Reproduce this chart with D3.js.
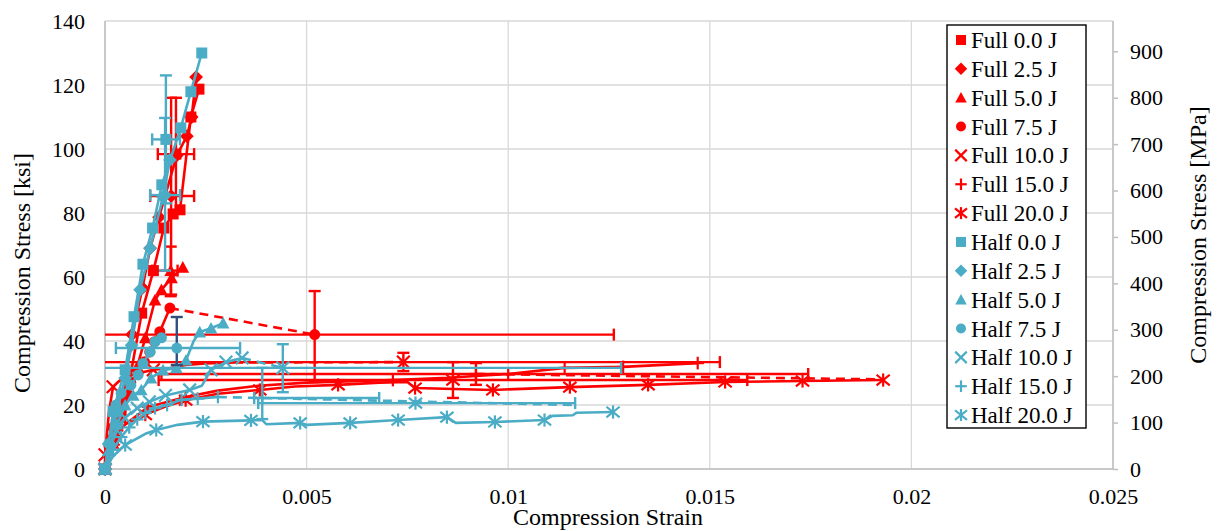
<!DOCTYPE html>
<html><head><meta charset="utf-8">
<script src="https://cdn.jsdelivr.net/npm/d3@7"></script>
<style>
body{margin:0;background:#fff}
svg{display:block}
svg text{font-family:'Liberation Serif','Times New Roman',Tinos,'DejaVu Serif',serif !important;fill:#000}
</style>
</head><body>
<svg id="c" width="1222" height="531" font-family="Liberation Serif"></svg>
<script>
// ---------- axis ticks ----------
const xTicks = [0, 0.005, 0.01, 0.015, 0.02, 0.025];
const yTicks = [0, 20, 40, 60, 80, 100, 120, 140];
const mpaTicks = [0, 100, 200, 300, 400, 500, 600, 700, 800, 900];
const legendLabels = ["Full 0.0 J","Full 2.5 J","Full 5.0 J","Full 7.5 J","Full 10.0 J","Full 15.0 J","Full 20.0 J",
  "Half 0.0 J","Half 2.5 J","Half 5.0 J","Half 7.5 J","Half 10.0 J","Half 15.0 J","Half 20.0 J"];

// ---------- data: [strain, stress ksi, (0 = no marker)] ----------
const full00Curve = [[0,0],[0.0002,9],[0.0004,18],[0.0006,27],[0.00091,48.7],[0.0012,62],[0.00146,75.3],[0.00169,79.7],[0.00186,81],[0.00213,110],[0.00233,118.7]];
const full25Curve = [[0,0],[0.0002,10],[0.0004,20],[0.00067,42],[0.00093,56.6],[0.00112,69],[0.00134,78.7],[0.00178,98],[0.00203,104],[0.00215,110],[0.00226,122.5]];
const full50Curve = [[0,0],[0.0002,8],[0.0004,16],[0.0006,24],[0.0008,32],[0.001,41],[0.00124,52.8],[0.0014,56],[0.00165,59.7],[0.00193,63]];
const full75Curve = [[0,0],[0.0001,7],[0.0002,13],[0.0003,17],[0.0004,21],[0.0005,24],[0.00064,27],[0.00082,30],[0.00098,33.5],[0.00111,36.6],[0.00123,39.8],[0.00136,42.9],[0.00161,50.3]];
const full100Curve = [[0,0],[0,4.4],[0.0001,18,0],[0.0002,25.7],[0.0004,28,0],[0.0007,29.5,0],[0.0012,31],[0.0016,31.5,0],[0.002,32.5,0],[0.0025,33,0],[0.0032,33.3,0]];
const full150Curve = [[0,0],[0.0003,12],[0.00107,19.4],[0.002,22.5],[0.0028,24.5,0],[0.0038,26,0],[0.005,27,0],[0.00714,27.8],[0.0085,28.5,0],[0.01,29.7],[0.0114,31.6],[0.01285,31.9],[0.0147,33.1]];
const full200Curve = [[0,0],[0.0002,9],[0.0005,14,0],[0.001,17],[0.0015,19.5,0],[0.002,21.5],[0.0028,23.5,0],[0.00384,24.7],[0.0047,25.8,0],[0.00578,26.3],[0.0068,27,0],[0.0075,27.2,0],[0.00769,25.3],[0.00962,24.7],[0.01153,25.6],[0.01347,26.3],[0.01538,27.2],[0.0173,27.5],[0.0193,27.8]];

const half00Curve = [[0,0],[0.0002,18],[0.0005,31],[0.00072,47.6],[0.00094,64],[0.00118,75.3],[0.00141,88.8],[0.00188,106.6],[0.00213,117.9],[0.0024,130]];
const half25Curve = [[0,0],[0.0001,8],[0.0003,18],[0.0005,28.4],[0.00066,38.7],[0.00087,56],[0.00112,69],[0.00144,85],[0.00161,96.6]];
const half50Curve = [[0,0],[0.0001,6],[0.0003,14],[0.0005,20],[0.0007,23],[0.0009,24.7],[0.00114,28.4],[0.00144,30.9],[0.00177,31.6],[0.00201,34],[0.0022,40,0],[0.00235,42.8],[0.00263,44],[0.00293,45.6]];
const half75Curve = [[0,0],[0.0001,8],[0.00027,20],[0.0004,23.7],[0.00064,26.2],[0.00082,29.4],[0.00094,33],[0.00112,36.6],[0.00124,39.8],[0.0014,41]];
const half100Curve = [[0,0],[0.0001,6],[0.0003,12],[0.0005,16],[0.0008,19],[0.0011,21],[0.0015,23],[0.0021,24.7],[0.0024,26,0],[0.00263,31],[0.003,33.4],[0.0034,34.7]];
const half150Curve = [[0,0],[0.0002,6],[0.0004,10],[0.0006,13],[0.0008,15.5],[0.001,17.5],[0.00124,19],[0.00154,20],[0.0019,21.6],[0.0023,22],[0.0028,22.5]];
const half200Curve = [[0,0],[0.0002,4,0],[0.0005,7.5],[0.001,11,0],[0.00127,12.2],[0.0018,13.8,0],[0.00243,14.8],[0.00362,15.2],[0.0039,15.3,0],[0.004,14,0],[0.00484,14.4],[0.005,13.8,0],[0.00608,14.4],[0.00727,15.3],[0.00848,16.2],[0.0087,14.4,0],[0.00967,14.7],[0.0109,15.3],[0.0111,16.6,0],[0.0116,16.8,0],[0.0117,17.6,0],[0.0126,17.8]];

// failure points: [strain, stress, strainLow, strainHigh, stressLow, stressHigh]
const full00Fail = [0.00176, 98.4, 0.00131, 0.00221, 80, 116];
const full25Fail = [0.00164, 85.3, 0.00112, 0.00221, 54.5, 116];
const full50Fail = [0.00163, 62, 0.00117, 0.0018, 54, 69.5];
const full75Fail = [0.0052, 42, 0, 0.01262, 27.2, 55.6];
const full100Fail = [0.0074, 33.4, 0, 0.01525, 30.6, 36.3];
const full150Fail = [0.0092, 29.7, 0.0014, 0.01744, 26.3, 33.1];
const full200Fail = [0.00863, 27.8, 0.00133, 0.01593, 22.2, 33.4];
const half00Fail = [0.00151, 103, 0.00117, 0.00186, 83, 123];
const half25Fail = [0.00149, 85.6, 0.00112, 0.00186, 62, 109.7];
const half75Fail = [0.00178, 37.8, 0.00027, 0.00335, 32.5, 47.5];
const half100Fail = [0.00441, 31.6, 0, 0.0128, 24, 39];
const half150Fail = [0.0039, 22.2, 0.0037, 0.0068, 15.6, 31.6];
const half200Fail = [0.0077, 20.6, 0.0038, 0.01166, 20.6, 20.6];

// dashed connectors
const full75Dash = [[0.00161,50.3],[0.0052,42]];
const full100Dash = [[0.0032,33.3],[0.0074,33.4]];
const full150Dash = [[0.0092,29.7],[0.0193,28]];
const half100Dash = [[0.0034,34.7],[0.00441,31.6]];
const half150Dash = [[0.0028,22.5],[0.0116,20]];

// ---------- build series ----------
const RED = "#FF0000", CYAN = "#4BACC6", NAVY = "#2F4F7F";
const shapes = ["square","diamond","triangle","circle","x","plus","asterisk"];
const curves = [full00Curve,full25Curve,full50Curve,full75Curve,full100Curve,full150Curve,full200Curve,
  half00Curve,half25Curve,half50Curve,half75Curve,half100Curve,half150Curve,half200Curve];
const fails = [full00Fail,full25Fail,full50Fail,full75Fail,full100Fail,full150Fail,full200Fail,
  half00Fail,half25Fail,null,half75Fail,half100Fail,half150Fail,half200Fail];
const dashes = [null,null,null,full75Dash,full100Dash,full150Dash,null,null,null,null,null,half100Dash,half150Dash,null];
const series = legendLabels.map((name,i)=>({
  name, curve: curves[i], fail: fails[i], dash: dashes[i],
  color: i < 7 ? RED : CYAN, shape: shapes[i % 7],
  yErrColor: name === "Half 7.5 J" ? NAVY : (i < 7 ? RED : CYAN)
}));

// ---------- scales ----------
const FONT = "'Liberation Serif','Times New Roman',Tinos,'DejaVu Serif',serif";
const svg = d3.select("#c");
const L = 105, R = 1113, T = 21, B = 469;
const x = d3.scaleLinear([0, 0.025], [L, R]);
const y = d3.scaleLinear([0, 140], [B, T]);
const yR = d3.scaleLinear([0, 140 * 6.894757], [B, T]);

// grid
const grid = svg.append("g");
yTicks.forEach(v => grid.append("line").attr("x1", L).attr("x2", R).attr("y1", y(v)).attr("y2", y(v))
  .attr("stroke", "#d9d9d9").attr("stroke-width", 1.3));
xTicks.forEach(v => grid.append("line").attr("x1", x(v)).attr("x2", x(v)).attr("y1", T).attr("y2", B)
  .attr("stroke", "#d9d9d9").attr("stroke-width", 1.3));
svg.append("line").attr("x1", L).attr("x2", L).attr("y1", T).attr("y2", B).attr("stroke", "#bfbfbf").attr("stroke-width", 1.5);
svg.append("line").attr("x1", L).attr("x2", R).attr("y1", B).attr("y2", B).attr("stroke", "#bfbfbf").attr("stroke-width", 1.5);

// left axis
const gl = svg.append("g").attr("transform", `translate(${L},0)`)
  .call(d3.axisLeft(y).tickValues(yTicks).tickSize(0).tickPadding(20).tickFormat(d3.format("d")));
gl.attr("font-family", FONT).attr("font-size", 22);
gl.select(".domain").remove();

// bottom axis
const gb = svg.append("g").attr("transform", `translate(0,${B})`)
  .call(d3.axisBottom(x).tickValues(xTicks).tickSize(0).tickPadding(19).tickFormat(d => String(+d.toFixed(3))));
gb.attr("font-family", FONT).attr("font-size", 22);
gb.select(".domain").remove();

// right axis
const gr = svg.append("g").attr("transform", `translate(${R},0)`)
  .call(d3.axisRight(yR).tickValues(mpaTicks).tickSize(5).tickPadding(12).tickFormat(d3.format("d")));
gr.attr("font-family", FONT).attr("font-size", 22);
gr.select(".domain").attr("stroke", "#bfbfbf").attr("stroke-width", 1.5).attr("d", `M0,${T}V${B}`);
gr.selectAll(".tick line").attr("stroke", "#bfbfbf").attr("stroke-width", 1.5);

// axis titles
svg.append("text").attr("transform", "translate(30,273) rotate(-90)").attr("text-anchor", "middle")
  .attr("font-family", FONT).attr("font-size", 24).text("Compression Stress [ksi]");
svg.append("text").attr("transform", "translate(1206,235) rotate(-90)").attr("text-anchor", "middle")
  .attr("font-family", FONT).attr("font-size", 24).text("Compression Stress [MPa]");
svg.append("text").attr("x", 608).attr("y", 525).attr("text-anchor", "middle")
  .attr("font-family", FONT).attr("font-size", 24).text("Compression Strain");

// ---------- markers ----------
function marker(g, type, cx, cy, col, s) {
  const h = s / 2;
  const ln = (x1, y1, x2, y2) => g.append("line").attr("x1", x1).attr("y1", y1).attr("x2", x2).attr("y2", y2)
    .attr("stroke", col).attr("stroke-width", 2.2);
  switch (type) {
    case "square": g.append("rect").attr("x", cx - h).attr("y", cy - h).attr("width", s).attr("height", s).attr("fill", col); break;
    case "diamond": { const d = h * 1.25; g.append("path").attr("d", `M${cx},${cy - d}L${cx + d},${cy}L${cx},${cy + d}L${cx - d},${cy}Z`).attr("fill", col); break; }
    case "triangle": { const d = h * 1.15; g.append("path").attr("d", `M${cx},${cy - d}L${cx + d},${cy + d * 0.85}L${cx - d},${cy + d * 0.85}Z`).attr("fill", col); break; }
    case "circle": g.append("circle").attr("cx", cx).attr("cy", cy).attr("r", h).attr("fill", col); break;
    case "x": { const d = h * 1.15; ln(cx - d, cy - d, cx + d, cy + d); ln(cx - d, cy + d, cx + d, cy - d); break; }
    case "plus": { const d = h * 1.15; ln(cx - d, cy, cx + d, cy); ln(cx, cy - d, cx, cy + d); break; }
    case "asterisk": { const d = h * 1.2; ln(cx - d, cy - d * 0.8, cx + d, cy + d * 0.8); ln(cx - d, cy + d * 0.8, cx + d, cy - d * 0.8); ln(cx, cy - d, cx, cy + d); break; }
  }
}

// ---------- series ----------
const lineGen = d3.line().x(d => x(d[0])).y(d => y(d[1]));
const plot = svg.append("g");
const cap = 6;
series.forEach(s => {
  const g = plot.append("g");
  g.append("path").attr("d", lineGen(s.curve)).attr("fill", "none").attr("stroke", s.color)
    .attr("stroke-width", 2.6).attr("stroke-linejoin", "round");
  if (s.dash) g.append("path").attr("d", lineGen(s.dash)).attr("fill", "none").attr("stroke", s.color)
    .attr("stroke-width", 2.6).attr("stroke-dasharray", "9,6");
  if (s.fail) {
    const [fx, fy, xl, xh, yl, yh] = s.fail;
    const px = x(fx), py = y(fy);
    const e = (x1, y1, x2, y2, c) => g.append("line").attr("x1", x1).attr("y1", y1).attr("x2", x2).attr("y2", y2)
      .attr("stroke", c).attr("stroke-width", 2.4);
    e(x(xl), py, x(xh), py, s.color);
    if (xl > 0) e(x(xl), py - cap, x(xl), py + cap, s.color);
    e(x(xh), py - cap, x(xh), py + cap, s.color);
    if (yh > yl) {
      e(px, y(yl), px, y(yh), s.yErrColor);
      e(px - cap, y(yl), px + cap, y(yl), s.yErrColor);
      e(px - cap, y(yh), px + cap, y(yh), s.yErrColor);
    }
  }
  s.curve.forEach(p => { if (p[2] !== 0) marker(g, s.shape, x(p[0]), y(p[1]), s.color, 11); });
  if (s.fail) marker(g, s.shape, x(s.fail[0]), y(s.fail[1]), s.color, 11);
});

// ---------- legend ----------
const lg = svg.append("g");
lg.append("rect").attr("x", 947).attr("y", 25).attr("width", 139).attr("height", 403)
  .attr("fill", "#fff").attr("stroke", "#000").attr("stroke-width", 1.4);
series.forEach((s, i) => {
  const cy = 40 + i * 28.85;
  marker(lg, s.shape, 961, cy, s.color, 10);
  lg.append("text").attr("x", 971).attr("y", cy).attr("dy", "0.35em")
    .attr("font-family", FONT).attr("font-size", 23).text(s.name);
});
</script>
</body></html>
